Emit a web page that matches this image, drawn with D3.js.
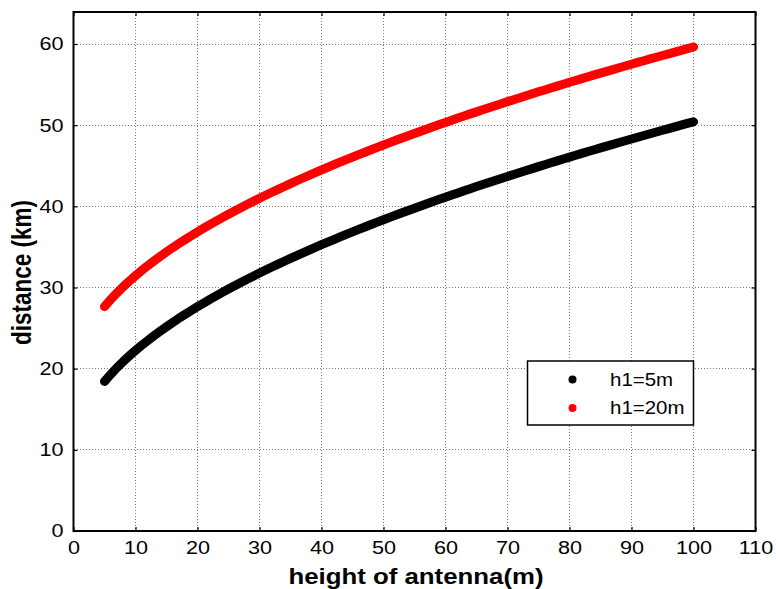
<!DOCTYPE html>
<html>
<head>
<meta charset="utf-8">
<script src="https://cdn.jsdelivr.net/npm/d3@7"></script>
<style>
html,body{margin:0;padding:0;background:#fff;}
svg{display:block;font-family:"Liberation Sans",Arial,Helvetica,sans-serif;}
</style>
</head>
<body>
<svg id="chart" width="776" height="589"></svg>
<script>
// ---- data ----
const heights = d3.range(5, 101, 1); // antenna height h2 (m), 5..100
const distH1_5 = [18.43,19.30,20.11,20.87,21.57,22.24,22.88,23.48,24.07,24.63,25.17,25.69,26.20,26.69,27.17,27.64,28.09,28.54,28.97,29.40,29.81,30.22,30.62,31.01,31.40,31.78,32.15,32.52,32.88,33.24,33.59,33.93,34.27,34.61,34.94,35.27,35.59,35.91,36.23,36.54,36.85,37.16,37.46,37.76,38.05,38.35,38.64,38.92,39.21,39.49,39.77,40.04,40.32,40.59,40.86,41.13,41.39,41.65,41.91,42.17,42.43,42.68,42.94,43.19,43.44,43.68,43.93,44.17,44.41,44.65,44.89,45.13,45.37,45.60,45.83,46.06,46.29,46.52,46.75,46.97,47.20,47.42,47.64,47.86,48.08,48.30,48.51,48.73,48.94,49.16,49.37,49.58,49.79,50.00,50.21,50.41];
const distH1_20 = [27.64,28.52,29.33,30.08,30.79,31.45,32.09,32.70,33.28,33.84,34.38,34.91,35.41,35.90,36.38,36.85,37.31,37.75,38.18,38.61,39.03,39.43,39.83,40.23,40.61,40.99,41.36,41.73,42.09,42.45,42.80,43.15,43.49,43.82,44.15,44.48,44.81,45.13,45.44,45.75,46.06,46.37,46.67,46.97,47.27,47.56,47.85,48.13,48.42,48.70,48.98,49.26,49.53,49.80,50.07,50.34,50.60,50.87,51.13,51.39,51.64,51.90,52.15,52.40,52.65,52.90,53.14,53.38,53.63,53.87,54.11,54.34,54.58,54.81,55.04,55.28,55.51,55.73,55.96,56.19,56.41,56.63,56.85,57.07,57.29,57.51,57.73,57.94,58.16,58.37,58.58,58.79,59.00,59.21,59.42,59.63];
const seriesNames = ["h1=5m", "h1=20m"];
const seriesColors = ["#000000", "#ff0000"];
const xTicks = [0,10,20,30,40,50,60,70,80,90,100,110];
const yTicks = [0,10,20,30,40,50,60];
const xLabel = "height of antenna(m)";
const yLabel = "distance (km)";

// ---- layout ----
const SX = 1.17; // horizontal stretch of glyphs seen in the reference
const L = 73.5, R = 755.5, T = 12, B = 531;
const svg = d3.select("#chart");
const x = d3.scaleLinear().domain([0, 110]).range([L, R]);
const y = d3.scaleLinear().domain([0, 60]).range([B, 44]);
const yTop = y.invert(T);
y.domain([0, yTop]).range([B, T]);

// grid
const grid = svg.append("g").attr("stroke", "#555").attr("stroke-width", 0.8)
  .attr("stroke-dasharray", "1,2").attr("shape-rendering", "crispEdges");
xTicks.filter(v => v > 0 && v < 110).forEach(v => {
  grid.append("line").attr("x1", x(v)).attr("x2", x(v)).attr("y1", T).attr("y2", B);
});
yTicks.filter(v => v > 0).forEach(v => {
  grid.append("line").attr("x1", L).attr("x2", R).attr("y1", y(v)).attr("y2", y(v));
});

// axes with inward ticks on all four sides
const tk = 4;
const axB = svg.append("g").attr("transform", `translate(0,${B})`)
  .call(d3.axisBottom(x).tickValues(xTicks).tickSizeInner(-tk).tickSizeOuter(0).tickPadding(10));
const axT = svg.append("g").attr("transform", `translate(0,${T})`)
  .call(d3.axisTop(x).tickValues(xTicks).tickSizeInner(-tk).tickSizeOuter(0).tickFormat(""));
const axL = svg.append("g").attr("transform", `translate(${L},0)`)
  .call(d3.axisLeft(y).tickValues(yTicks).tickSizeInner(-tk).tickSizeOuter(0).tickPadding(10));
const axR = svg.append("g").attr("transform", `translate(${R},0)`)
  .call(d3.axisRight(y).tickValues(yTicks).tickSizeInner(-tk).tickSizeOuter(0).tickFormat(""));
[axB, axT, axL, axR].forEach(a => {
  a.select(".domain").remove();
  a.selectAll("line").attr("stroke", "#000").attr("stroke-width", 1.2);
  a.selectAll("text").attr("fill", "#000").style("font-size", "18.5px")
    .style("font-family", "'Liberation Sans', Arial, sans-serif");
});
axB.selectAll("text").attr("dy", "0.71em").attr("transform", `scale(${SX},1)`);
axL.selectAll("text").each(function() {
  const t = d3.select(this);
  const tx = +t.attr("x");
  t.attr("x", 0).attr("transform", `translate(${tx},0) scale(${SX},1)`);
});

// box
svg.append("rect").attr("x", L).attr("y", T).attr("width", R - L).attr("height", B - T)
  .attr("fill", "none").attr("stroke", "#000").attr("stroke-width", 2);

// series as dense thick dotted traces
const line = d3.line().x((d, i) => x(heights[i])).y(d => y(d));
[distH1_5, distH1_20].forEach((s, k) => {
  svg.append("path").datum(s).attr("d", line).attr("fill", "none")
    .attr("stroke", seriesColors[k]).attr("stroke-width", 9)
    .attr("stroke-linecap", "round").attr("stroke-linejoin", "round");
});

// axis labels
svg.append("text").attr("transform", `translate(416,584) scale(${SX + 0.03},1)`)
  .attr("text-anchor", "middle")
  .style("font-size", "21.5px").style("font-weight", "bold").text(xLabel);
svg.append("text").attr("transform", `translate(30.5,${(T + B) / 2 + 1}) scale(${SX + 0.03},1) rotate(-90)`)
  .attr("text-anchor", "middle").style("font-size", "22.5px").style("font-weight", "bold").text(yLabel);

// legend
const lg = svg.append("g");
lg.append("rect").attr("x", 527.5).attr("y", 361).attr("width", 166).attr("height", 64)
  .attr("fill", "#fff").attr("stroke", "#000").attr("stroke-width", 1.5);
seriesNames.forEach((n, k) => {
  const yy = 379.5 + k * 28.5;
  lg.append("circle").attr("cx", 572.5).attr("cy", yy).attr("r", 4).attr("fill", seriesColors[k]);
  lg.append("text").attr("transform", `translate(610,${yy}) scale(${SX},1)`).attr("dy", "0.36em")
    .style("font-size", "17.5px").text(n);
});
</script>
</body>
</html>
